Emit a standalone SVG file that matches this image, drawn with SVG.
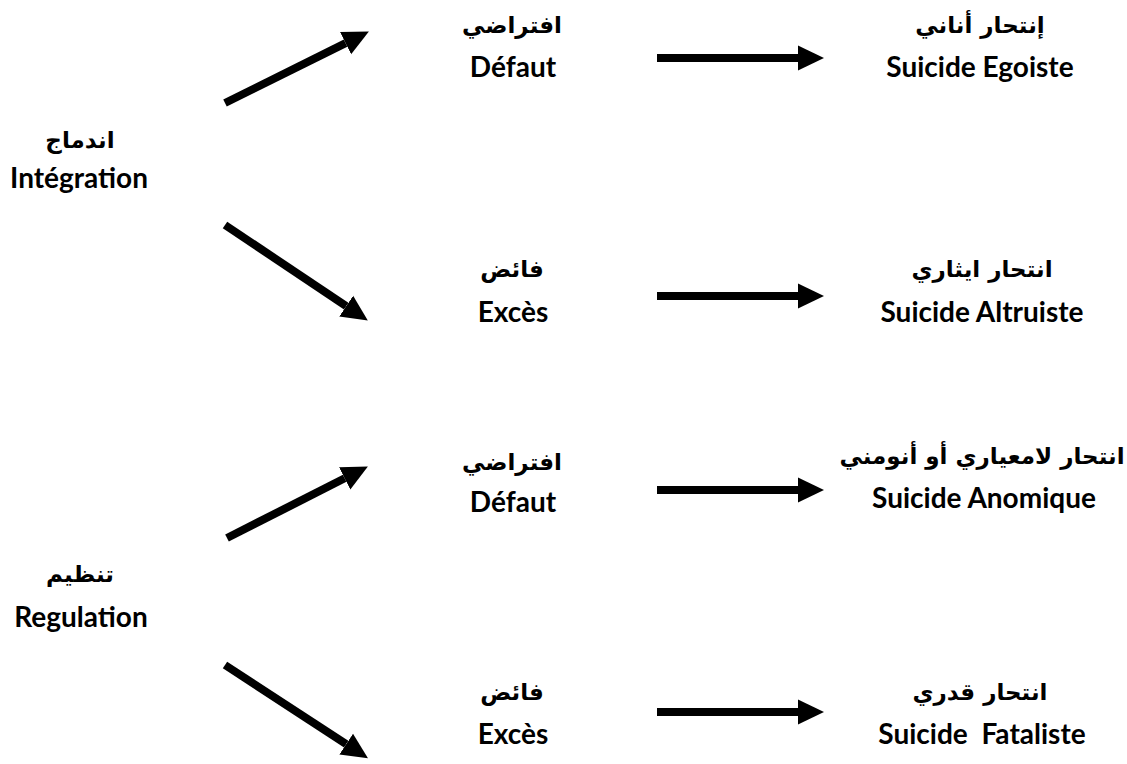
<svg xmlns="http://www.w3.org/2000/svg" width="1127" height="764" viewBox="0 0 1127 764">
  <defs>
    <marker id="head" markerUnits="userSpaceOnUse" markerWidth="26" markerHeight="26" viewBox="0 0 25 24" refX="0" refY="12" orient="auto">
      <path d="M0,0 L25,12 L0,24 Z" fill="#000"/>
    </marker>
    <style>
      .lat { font-family: Lato, "Open Sans", sans-serif; font-weight: 700; font-size: 28px; fill: #000; text-anchor: middle; white-space: pre; }
      .ar { font-family: "DejaVu Sans", sans-serif; font-weight: 700; font-size: 23px; fill: #000; text-anchor: middle; direction: rtl; }
      .arrow { stroke: #000; stroke-width: 8; fill: none; marker-end: url(#head); }
    </style>
  </defs>

  <rect width="1127" height="764" fill="#fff"/>

  <!-- connectors: each line stops at the arrowhead base -->
  <g id="connectors">
    <line class="arrow" x1="225" y1="103" x2="345.6" y2="43.1"/>
    <line class="arrow" x1="225" y1="225" x2="346.2" y2="306.1"/>
    <line class="arrow" x1="227" y1="538" x2="344.7" y2="478.3"/>
    <line class="arrow" x1="225" y1="665" x2="346.2" y2="744.1"/>
    <line class="arrow" x1="657" y1="58" x2="798" y2="58"/>
    <line class="arrow" x1="657" y1="296" x2="798" y2="296"/>
    <line class="arrow" x1="657" y1="490" x2="798" y2="490"/>
    <line class="arrow" x1="657" y1="712" x2="798" y2="712"/>
  </g>

  <!-- left column -->
  <g id="integration">
    <text class="ar" x="80" y="148">اندماج</text>
    <text class="lat" x="79" y="188">Intégration</text>
  </g>
  <g id="regulation">
    <text class="ar" x="80" y="582">تنظيم</text>
    <text class="lat" x="81" y="627">Regulation</text>
  </g>

  <!-- middle column -->
  <g id="defaut-integration">
    <text class="ar" x="512" y="33">افتراضي</text>
    <text class="lat" x="513" y="77">Défaut</text>
  </g>
  <g id="exces-integration">
    <text class="ar" x="512" y="277">فائض</text>
    <text class="lat" x="513" y="322">Excès</text>
  </g>
  <g id="defaut-regulation">
    <text class="ar" x="512" y="470">افتراضي</text>
    <text class="lat" x="513" y="512">Défaut</text>
  </g>
  <g id="exces-regulation">
    <text class="ar" x="512" y="700">فائض</text>
    <text class="lat" x="513" y="744">Excès</text>
  </g>

  <!-- right column -->
  <g id="egoiste">
    <text class="ar" x="980" y="33">إنتحار أناني</text>
    <text class="lat" x="980" y="77">Suicide Egoiste</text>
  </g>
  <g id="altruiste">
    <text class="ar" x="982" y="277">انتحار ايثاري</text>
    <text class="lat" x="982" y="322">Suicide Altruiste</text>
  </g>
  <g id="anomique">
    <text class="ar" x="982" y="464">انتحار لامعياري أو أنومني</text>
    <text class="lat" x="984" y="508">Suicide Anomique</text>
  </g>
  <g id="fataliste">
    <text class="ar" x="980" y="700">انتحار قدري</text>
    <text class="lat" x="982" y="744">Suicide  Fataliste</text>
  </g>
</svg>
